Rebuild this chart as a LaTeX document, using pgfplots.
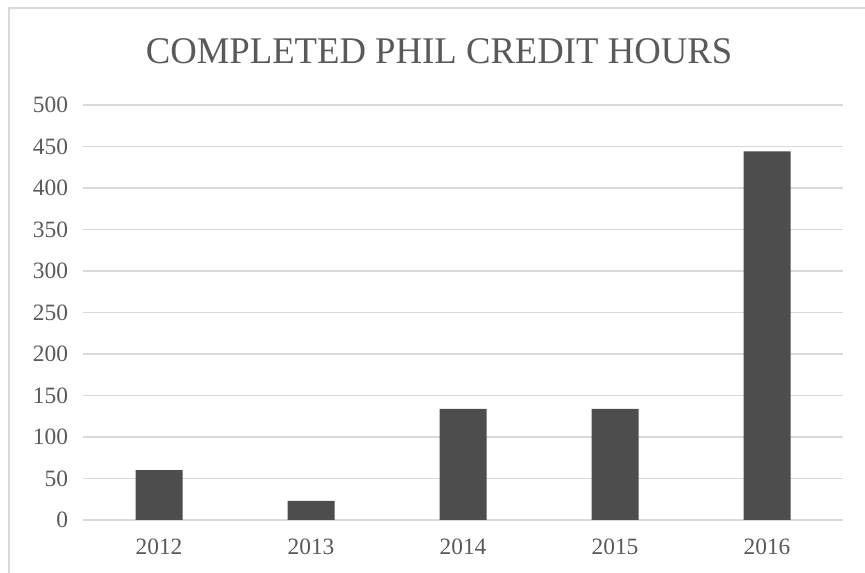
\documentclass[border=0pt]{standalone}
\usepackage{fontspec}
\setmainfont{Liberation Serif}
\usepackage{pgfplots}
\pgfplotsset{compat=1.18}
\definecolor{barc}{HTML}{4D4D4D}
\definecolor{gridc}{HTML}{D9D9D9}
\definecolor{txt}{HTML}{595959}
\begin{document}
\begin{tikzpicture}
\path[use as bounding box] (0,0) rectangle (432.5bp,286.5bp);
% outer chart frame (cut at right and bottom)
\draw[gridc, line width=0.7bp] (4.5bp,0) -- (4.5bp,282.5bp) -- (432.5bp,282.5bp);
\node[txt, anchor=base, xscale=0.975, font=\fontsize{18.9}{20}\selectfont] at (219.5bp,254.8bp) {COMPLETED PHIL CREDIT HOURS};
\begin{axis}[
  scale only axis,
  width=380bp, height=207.5bp,
  at={(41.5bp,26.5bp)}, anchor=south west,
  xmin=-0.5, xmax=4.5,
  ymin=0, ymax=500,
  ytick={0,50,...,500},
  xtick=data,
  xticklabels={2012,2013,2014,2015,2016},
  major tick length=0pt,
  axis line style={draw=none},
  ymajorgrids,
  grid style={gridc, line width=0.75bp},
  tick label style={txt, font=\fontsize{11.75}{12}\selectfont},
  /pgf/number format/assume math mode=true,
  yticklabel style={xshift=-4bp},
  xticklabel style={yshift=-6bp},
  ]
  \addplot[ybar, bar width=23.5bp, fill=barc, draw=none] coordinates {
    (0,60) (1,23) (2,134) (3,134) (4,444)
  };
\end{axis}
\end{tikzpicture}
\end{document}
